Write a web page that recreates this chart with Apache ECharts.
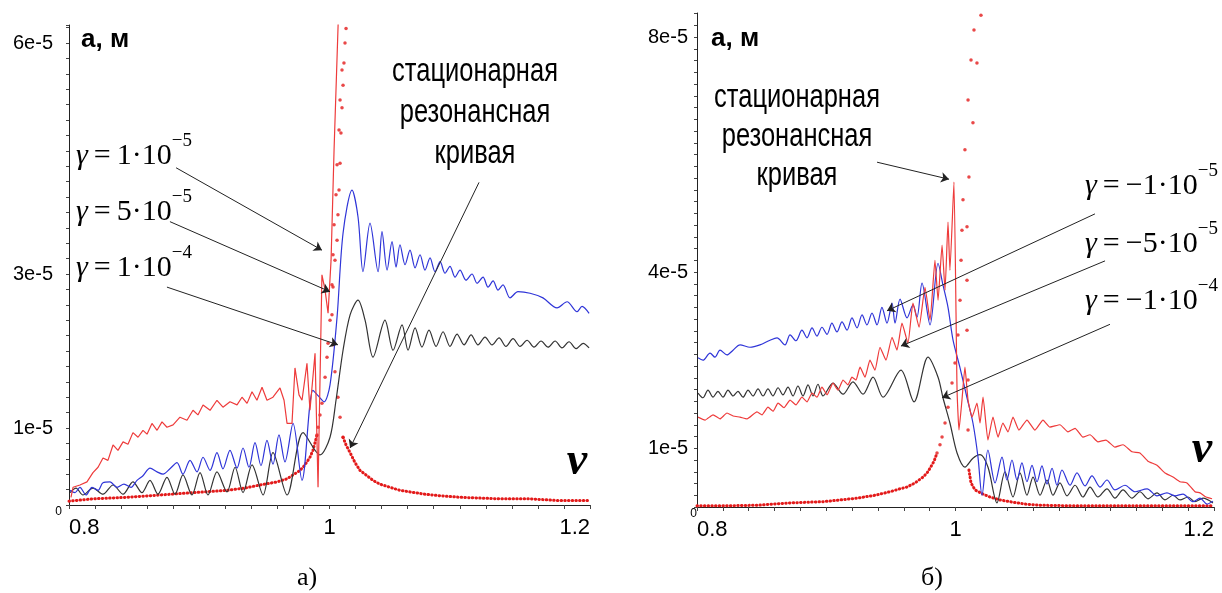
<!DOCTYPE html>
<html>
<head>
<meta charset="utf-8">
<script src="https://cdn.jsdelivr.net/npm/echarts@6/dist/echarts.min.js"></script>
<style>html,body{margin:0;padding:0;background:#fff}#chart{width:1222px;height:593px}</style>
</head>
<body>
<div id="chart"></div>
<script>
// amplitudes in units of 1e-5 m, frequency ratio nu
const xTickLabels = [0.8, 1, 1.2];
const yTickLabelsLeft = [0, 1, 3, 6];
const yTickLabelsRight = [0, 1, 4, 8];

// ---- panel a) ----
const leftStationary = [[0.8000,0.05],[0.8184,0.08],[0.8445,0.10],[0.8699,0.13],[0.8952,0.16],[0.9213,0.19],[0.9351,0.22],[0.9466,0.26],[0.9597,0.30],[0.9674,0.34],[0.9720,0.39],[0.9766,0.44],[0.9797,0.49],[0.9827,0.56],[0.9850,0.62],[0.9873,0.71],[0.9889,0.81],[0.9904,0.91],[0.9912,1.01],[0.9927,1.17],[0.9942,1.32],[0.9966,1.66],[0.9981,1.92],[0.9989,2.10],[1.0004,2.40],[1.0027,2.83],[1.0042,3.18],[1.0058,3.44],[1.0065,3.77],[1.0073,4.09],[1.0081,4.44],[1.0088,4.83],[1.0096,5.16],[1.0104,5.45],[1.0111,5.74],[1.0119,6.00],[1.0127,6.19],[1.0096,5.65],[1.0081,5.26],[1.0073,4.87],[1.0058,4.42],[1.0050,4.03],[1.0035,3.64],[1.0027,3.25],[1.0019,2.86],[1.0019,2.47],[1.0027,2.08],[1.0042,1.73],[1.0065,1.40],[1.0081,1.14],[1.0104,0.88],[1.0127,0.78],[1.0158,0.68],[1.0196,0.55],[1.0234,0.45],[1.0280,0.39],[1.0334,0.32],[1.0388,0.27],[1.0465,0.23],[1.0541,0.19],[1.0618,0.17],[1.0733,0.14],[1.0849,0.12],[1.1002,0.10],[1.1156,0.09],[1.1309,0.08],[1.1540,0.08],[1.1732,0.06],[1.1993,0.06]];
const leftGamma1e5 = [[0.8015,0.10],[0.8031,0.23],[0.8084,0.26],[0.8138,0.30],[0.8184,0.42],[0.8223,0.49],[0.8261,0.61],[0.8299,0.58],[0.8338,0.78],[0.8376,0.71],[0.8415,0.82],[0.8453,0.79],[0.8491,0.94],[0.8530,0.88],[0.8568,0.97],[0.8599,0.92],[0.8637,1.06],[0.8676,0.97],[0.8714,1.08],[0.8752,1.01],[0.8799,1.04],[0.8852,1.14],[0.8906,1.10],[0.8952,1.23],[0.8990,1.17],[0.9029,1.30],[0.9083,1.23],[0.9136,1.36],[0.9182,1.27],[0.9236,1.34],[0.9290,1.30],[0.9328,1.40],[0.9367,1.32],[0.9405,1.47],[0.9443,1.36],[0.9482,1.53],[0.9520,1.36],[0.9566,1.40],[0.9620,1.52],[0.9651,1.36],[0.9674,1.06],[0.9712,1.06],[0.9735,1.78],[0.9766,1.43],[0.9789,1.36],[0.9827,1.84],[0.9850,1.23],[0.9889,1.97],[0.9912,0.23],[0.9942,2.99],[0.9966,2.79],[0.9989,2.49],[1.0012,3.18],[1.0035,4.61],[1.0066,6.23],[1.0074,6.56]];
const leftGamma5e5 = [[0.8008,0.19],[0.8046,0.16],[0.8084,0.23],[0.8131,0.13],[0.8177,0.23],[0.8223,0.19],[0.8261,0.29],[0.8315,0.30],[0.8369,0.23],[0.8422,0.27],[0.8476,0.23],[0.8522,0.32],[0.8568,0.38],[0.8622,0.48],[0.8676,0.43],[0.8722,0.40],[0.8775,0.47],[0.8829,0.55],[0.8875,0.40],[0.8929,0.58],[0.8983,0.43],[0.9029,0.62],[0.9083,0.45],[0.9136,0.68],[0.9182,0.47],[0.9236,0.71],[0.9290,0.48],[0.9336,0.74],[0.9382,0.49],[0.9428,0.81],[0.9474,0.51],[0.9520,0.84],[0.9566,0.53],[0.9612,0.91],[0.9658,0.56],[0.9720,1.06],[0.9789,0.32],[0.9873,1.49],[0.9912,1.42],[0.9958,1.34],[1.0004,1.56],[1.0058,2.44],[1.0104,3.53],[1.0173,4.09],[1.0219,3.74],[1.0257,3.03],[1.0311,3.66],[1.0373,3.03],[1.0403,3.55],[1.0442,3.05],[1.0480,3.42],[1.0511,3.09],[1.0541,3.38],[1.0580,3.12],[1.0618,3.31],[1.0657,3.08],[1.0695,3.25],[1.0733,3.05],[1.0772,3.21],[1.0810,3.03],[1.0849,3.16],[1.0887,3.01],[1.0925,3.10],[1.0964,2.96],[1.1002,3.05],[1.1048,2.92],[1.1094,3.00],[1.1133,2.88],[1.1179,2.96],[1.1217,2.83],[1.1256,2.91],[1.1294,2.79],[1.1332,2.86],[1.1386,2.69],[1.1447,2.77],[1.1540,2.75],[1.1639,2.69],[1.1747,2.56],[1.1824,2.64],[1.1900,2.51],[1.1939,2.58],[1.1993,2.49]];
const leftGamma1e4 = [[0.8008,0.16],[0.8054,0.22],[0.8107,0.13],[0.8184,0.22],[0.8261,0.14],[0.8338,0.26],[0.8415,0.14],[0.8491,0.30],[0.8560,0.16],[0.8622,0.32],[0.8683,0.14],[0.8752,0.36],[0.8814,0.14],[0.8875,0.39],[0.8944,0.13],[0.9006,0.42],[0.9067,0.13],[0.9136,0.43],[0.9213,0.17],[0.9275,0.49],[0.9336,0.16],[0.9405,0.52],[0.9490,0.13],[0.9566,0.68],[0.9674,0.13],[0.9797,0.94],[0.9927,0.65],[1.0004,0.88],[1.0050,1.36],[1.0104,2.01],[1.0158,2.47],[1.0219,2.66],[1.0273,2.40],[1.0334,1.92],[1.0426,2.40],[1.0488,2.01],[1.0557,2.34],[1.0603,2.01],[1.0657,2.30],[1.0710,2.05],[1.0764,2.27],[1.0818,2.06],[1.0872,2.25],[1.0925,2.06],[1.0979,2.22],[1.1033,2.08],[1.1087,2.21],[1.1140,2.08],[1.1194,2.18],[1.1248,2.08],[1.1302,2.17],[1.1355,2.06],[1.1409,2.16],[1.1463,2.06],[1.1517,2.14],[1.1570,2.05],[1.1624,2.13],[1.1678,2.05],[1.1732,2.13],[1.1785,2.04],[1.1839,2.12],[1.1893,2.03],[1.1947,2.10],[1.1993,2.04]];

// ---- panel б) ----
const rightStationary = [[0.8000,0.02],[0.8201,0.02],[0.8464,0.03],[0.8720,0.07],[0.8975,0.09],[0.9238,0.15],[0.9377,0.20],[0.9493,0.26],[0.9571,0.31],[0.9625,0.34],[0.9687,0.41],[0.9749,0.51],[0.9780,0.58],[0.9803,0.66],[0.9834,0.78],[0.9857,0.92],[0.9880,1.06],[0.9896,1.19],[0.9919,1.43],[0.9942,1.70],[0.9973,2.11],[0.9996,2.45],[1.0019,2.93],[1.0035,3.52],[1.0043,4.20],[1.0050,4.71],[1.0058,5.23],[1.0073,6.08],[1.0097,6.93],[1.0120,7.61],[1.0143,8.12],[1.0174,8.54],[1.0197,8.37],[1.0166,7.56],[1.0135,6.54],[1.0104,5.62],[1.0089,4.77],[1.0089,3.86],[1.0089,3.01],[1.0097,2.16],[1.0097,1.31],[1.0104,0.63],[1.0120,0.41],[1.0151,0.29],[1.0213,0.22],[1.0267,0.17],[1.0344,0.12],[1.0422,0.09],[1.0538,0.05],[1.0654,0.03],[1.0909,0.02],[1.1195,0.02],[1.1505,0.02],[1.2000,0.02]];
const rightGammaM1e5 = [[0.8008,2.54],[0.8046,2.50],[0.8101,2.62],[0.8139,2.55],[0.8178,2.67],[0.8232,2.59],[0.8279,2.67],[0.8333,2.76],[0.8410,2.72],[0.8487,2.76],[0.8565,2.84],[0.8619,2.88],[0.8681,2.76],[0.8720,2.93],[0.8766,2.83],[0.8812,3.01],[0.8851,2.88],[0.8890,3.05],[0.8928,2.91],[0.8967,3.06],[0.9006,2.94],[0.9044,3.13],[0.9083,2.98],[0.9122,3.15],[0.9161,3.01],[0.9199,3.22],[0.9238,3.05],[0.9277,3.27],[0.9315,3.10],[0.9354,3.30],[0.9393,3.10],[0.9431,3.40],[0.9470,3.13],[0.9509,3.47],[0.9532,3.13],[0.9571,3.54],[0.9625,3.22],[0.9671,3.44],[0.9702,3.23],[0.9741,3.81],[0.9803,3.10],[0.9865,4.15],[0.9903,3.78],[0.9942,3.40],[0.9981,2.84],[1.0035,2.37],[1.0089,1.86],[1.0135,1.43],[1.0174,0.85],[1.0205,0.20],[1.0251,0.97],[1.0306,0.41],[1.0360,0.85],[1.0398,0.46],[1.0437,0.80],[1.0476,0.46],[1.0514,0.75],[1.0553,0.43],[1.0592,0.71],[1.0631,0.43],[1.0669,0.70],[1.0708,0.39],[1.0747,0.66],[1.0785,0.37],[1.0824,0.63],[1.0886,0.37],[1.0940,0.58],[1.1002,0.36],[1.1056,0.53],[1.1118,0.34],[1.1172,0.46],[1.1234,0.29],[1.1311,0.37],[1.1389,0.26],[1.1482,0.31],[1.1559,0.19],[1.1636,0.24],[1.1698,0.19],[1.1760,0.22],[1.1837,0.09],[1.1892,0.15],[1.1946,0.05],[1.1992,0.10]];
const rightGammaM5e5 = [[0.8008,1.53],[0.8062,1.48],[0.8124,1.57],[0.8178,1.50],[0.8232,1.60],[0.8279,1.55],[0.8333,1.53],[0.8387,1.50],[0.8464,1.62],[0.8503,1.57],[0.8549,1.70],[0.8588,1.63],[0.8627,1.77],[0.8673,1.69],[0.8720,1.82],[0.8766,1.74],[0.8812,1.87],[0.8851,1.79],[0.8890,1.94],[0.8928,1.87],[0.8967,2.04],[0.9006,1.91],[0.9052,2.11],[0.9091,1.99],[0.9130,2.16],[0.9168,2.08],[0.9199,2.21],[0.9230,2.16],[0.9261,2.38],[0.9300,2.21],[0.9338,2.50],[0.9377,2.33],[0.9416,2.72],[0.9462,2.50],[0.9509,2.89],[0.9547,2.67],[0.9586,3.13],[0.9632,2.79],[0.9671,3.47],[0.9718,3.06],[0.9764,3.74],[0.9803,3.18],[0.9841,4.20],[0.9865,3.52],[0.9896,4.46],[0.9919,3.69],[0.9942,4.85],[0.9957,4.03],[0.9988,5.53],[1.0012,1.99],[1.0027,1.31],[1.0050,1.82],[1.0073,2.38],[1.0097,1.82],[1.0128,1.53],[1.0166,1.77],[1.0190,1.43],[1.0213,1.87],[1.0251,1.14],[1.0290,1.53],[1.0329,1.19],[1.0367,1.43],[1.0406,1.28],[1.0445,1.53],[1.0491,1.31],[1.0553,1.48],[1.0615,1.31],[1.0677,1.48],[1.0731,1.36],[1.0808,1.40],[1.0870,1.28],[1.0925,1.34],[1.0986,1.19],[1.1041,1.23],[1.1102,1.11],[1.1164,1.14],[1.1234,1.02],[1.1296,1.06],[1.1366,0.94],[1.1427,0.92],[1.1489,0.78],[1.1559,0.71],[1.1621,0.58],[1.1683,0.51],[1.1737,0.43],[1.1791,0.41],[1.1853,0.26],[1.1892,0.24],[1.1938,0.17],[1.1985,0.14]];
const rightGammaM1e4 = [[0.8008,1.94],[0.8046,1.86],[0.8085,1.99],[0.8124,1.87],[0.8162,1.97],[0.8201,1.87],[0.8240,1.99],[0.8279,1.89],[0.8317,1.97],[0.8356,1.87],[0.8395,1.99],[0.8433,1.89],[0.8472,2.01],[0.8511,1.89],[0.8549,2.01],[0.8588,1.89],[0.8627,2.03],[0.8665,1.91],[0.8704,2.04],[0.8743,1.89],[0.8781,2.06],[0.8820,1.89],[0.8859,2.08],[0.8897,1.89],[0.8936,2.09],[0.8975,1.89],[0.9052,2.11],[0.9130,1.92],[0.9207,2.13],[0.9284,1.92],[0.9362,2.21],[0.9439,1.87],[0.9578,2.33],[0.9679,1.79],[0.9787,2.55],[0.9865,2.21],[0.9903,1.86],[0.9957,1.43],[1.0012,0.92],[1.0073,0.68],[1.0135,0.83],[1.0190,0.89],[1.0251,0.68],[1.0321,0.07],[1.0383,0.60],[1.0445,0.17],[1.0499,0.58],[1.0553,0.20],[1.0600,0.51],[1.0654,0.20],[1.0708,0.46],[1.0754,0.20],[1.0808,0.41],[1.0863,0.19],[1.0925,0.37],[1.0986,0.17],[1.1041,0.34],[1.1102,0.17],[1.1172,0.31],[1.1234,0.15],[1.1296,0.29],[1.1366,0.15],[1.1427,0.26],[1.1489,0.14],[1.1559,0.24],[1.1621,0.12],[1.1683,0.20],[1.1737,0.12],[1.1799,0.17],[1.1853,0.09],[1.1915,0.15],[1.1992,0.07]];

// annotation arrows (data coordinates): [start, end]
const leftArrows = [[[0.8822,4.38],[0.9942,3.31]],[[0.8775,3.68],[1.0004,2.77]],[[0.8752,2.83],[1.0065,2.08]],[[1.1148,4.19],[1.0158,0.74]]];
const rightArrows = [[[0.9393,5.87],[0.9950,5.58]],[[1.1079,4.99],[0.9470,3.34]],[[1.1157,4.19],[0.9578,2.74]],[[1.1195,3.11],[0.9896,1.86]]];

const RED = '#ee3b3b', DOT = '#e31a1a', BLUE = '#2f35d8', BLACK = '#333333';
const SANS = 'Liberation Sans', SERIF = 'Liberation Serif';
const DENSE_LIMIT = 1.0; // below this amplitude the stationary curve dots are dense

function xAxis(gi) {
  return {
    type: 'value', gridIndex: gi, min: 0.8, max: 1.2, interval: 0.02,
    axisLine: { show: true, onZero: false, lineStyle: { color: '#222', width: 1 } },
    axisTick: { show: true, length: 4, lineStyle: { color: '#444' } },
    axisLabel: { customValues: xTickLabels, formatter: v => String(v), fontFamily: SANS, fontSize: 22, color: '#000', margin: 12, alignMinLabel: 'left', alignMaxLabel: 'right' },
    splitLine: { show: false }
  };
}
function yAxis(gi, max, labels, margin) {
  return {
    type: 'value', gridIndex: gi, min: 0, max: max, interval: 0.2,
    axisLine: { show: true, onZero: false, lineStyle: { color: '#222', width: 1 } },
    axisTick: { show: true, length: 3, lineStyle: { color: '#444' } },
    axisLabel: {
      customValues: labels, margin: margin, fontFamily: SANS, fontSize: 20, color: '#000',
      formatter: v => v === 0 ? '{z|0}' : v + 'e-5',
      rich: { z: { fontSize: 12, fontFamily: SANS, color: '#000', padding: [14, -9, 0, 0] } }
    },
    splitLine: { show: false }
  };
}
function lineSeries(data, gi, color, extra) {
  return Object.assign({
    type: 'line', xAxisIndex: gi, yAxisIndex: gi, data: data, showSymbol: false, symbol: 'none',
    smooth: 0.3, lineStyle: { color: color, width: 1.2 }, clip: true, silent: true
  }, extra || {});
}
// stationary curve: dense dotted line on the low tails, sparse dots on the steep peak
function stationarySeries(data, gi) {
  const low = data.map(p => p[1] <= DENSE_LIMIT ? p : [p[0], null]);
  const high = data.filter(p => p[1] > DENSE_LIMIT * 0.85);
  return [
    { type: 'line', xAxisIndex: gi, yAxisIndex: gi, data: low, showSymbol: false, symbol: 'none', connectNulls: false,
      lineStyle: { color: DOT, width: 3, type: [0.5, 3.2], cap: 'round' }, clip: true, silent: true },
    { type: 'scatter', xAxisIndex: gi, yAxisIndex: gi, data: high, symbol: 'circle', symbolSize: 3.5,
      itemStyle: { color: DOT }, clip: true, silent: true }
  ];
}
function arrows(list) {
  return {
    silent: true, symbol: ['none', 'arrow'], symbolSize: 8, animation: false,
    label: { show: false }, lineStyle: { color: '#222', width: 1, type: 'solid' },
    data: list.map(a => [{ coord: a[0] }, { coord: a[1] }])
  };
}
function gammaLabel(x, y, core, sup) {
  return {
    type: 'text', x: x, y: y,
    style: {
      text: '{g|γ}{n|' + core + '}{s|' + sup + '}',
      rich: {
        g: { fontFamily: SERIF, fontStyle: 'italic', fontSize: 30, lineHeight: 48, fill: '#000' },
        n: { fontFamily: SERIF, fontSize: 30, lineHeight: 48, fill: '#000' },
        s: { fontFamily: SERIF, fontSize: 19, lineHeight: 19, verticalAlign: 'top', fill: '#000' }
      },
      textAlign: 'left', textVerticalAlign: 'middle', align: 'left', verticalAlign: 'middle'
    }
  };
}
function plainText(x, y, text, font, align, extra) {
  return Object.assign({
    type: 'text', x: x, y: y,
    style: { text: text, font: font, fill: '#000', textAlign: align, textVerticalAlign: 'middle', align: align, verticalAlign: 'middle' }
  }, extra || {});
}
function narrowBlock(x, y, text, lh) {
  return {
    type: 'text', x: x, y: y, scaleX: 0.75,
    style: { text: text, font: '34px "Liberation Sans"', fill: '#000', textAlign: 'center', textVerticalAlign: 'middle', align: 'center', verticalAlign: 'middle', lineHeight: lh }
  };
}

const TS = '\u2009';
const chart = echarts.init(document.getElementById('chart'), null, { renderer: 'canvas' });
chart.setOption({
  animation: false,
  backgroundColor: '#fff',
  grid: [
    { left: 69, top: 25, width: 521, height: 480 },
    { left: 697, top: 13, width: 517, height: 494 }
  ],
  xAxis: [xAxis(0), xAxis(1)],
  yAxis: [yAxis(0, 6.234, yTickLabelsLeft, 16), yAxis(1, 8.41, yTickLabelsRight, 9)],
  series: [].concat(
    stationarySeries(leftStationary, 0),
    [lineSeries(leftGamma1e4, 0, BLACK, { markLine: arrows(leftArrows) }),
     lineSeries(leftGamma5e5, 0, BLUE),
     lineSeries(leftGamma1e5, 0, RED, { smooth: false })],
    stationarySeries(rightStationary, 1),
    [lineSeries(rightGammaM1e4, 1, BLACK, { markLine: arrows(rightArrows) }),
     lineSeries(rightGammaM1e5, 1, BLUE),
     lineSeries(rightGammaM5e5, 1, RED, { smooth: 0.15 })]
  ),
  graphic: [
    plainText(81, 40, 'а, м', 'bold 26px "Liberation Sans"', 'left'),
    plainText(711, 39, 'а, м', 'bold 26px "Liberation Sans"', 'left'),
    narrowBlock(475, 113, 'стационарная\nрезонансная\nкривая', 41),
    narrowBlock(797, 137, 'стационарная\nрезонансная\nкривая', 39),
    gammaLabel(76, 156, TS + '=' + TS + '1·10', '−5'),
    gammaLabel(76, 212, TS + '=' + TS + '5·10', '−5'),
    gammaLabel(76, 268, TS + '=' + TS + '1·10', '−4'),
    gammaLabel(1085, 186, TS + '=' + TS + '−1·10', '−5'),
    gammaLabel(1085, 244, TS + '=' + TS + '−5·10', '−5'),
    gammaLabel(1085, 301, TS + '=' + TS + '−1·10', '−4'),
    plainText(577, 462, 'ν', 'italic bold 46px "Liberation Serif"', 'center'),
    plainText(1202, 450, 'ν', 'italic bold 46px "Liberation Serif"', 'center'),
    plainText(307, 578, 'а)', '26px "Liberation Serif"', 'center'),
    plainText(932, 578, 'б)', '26px "Liberation Serif"', 'center')
  ]
});
</script>
</body>
</html>
